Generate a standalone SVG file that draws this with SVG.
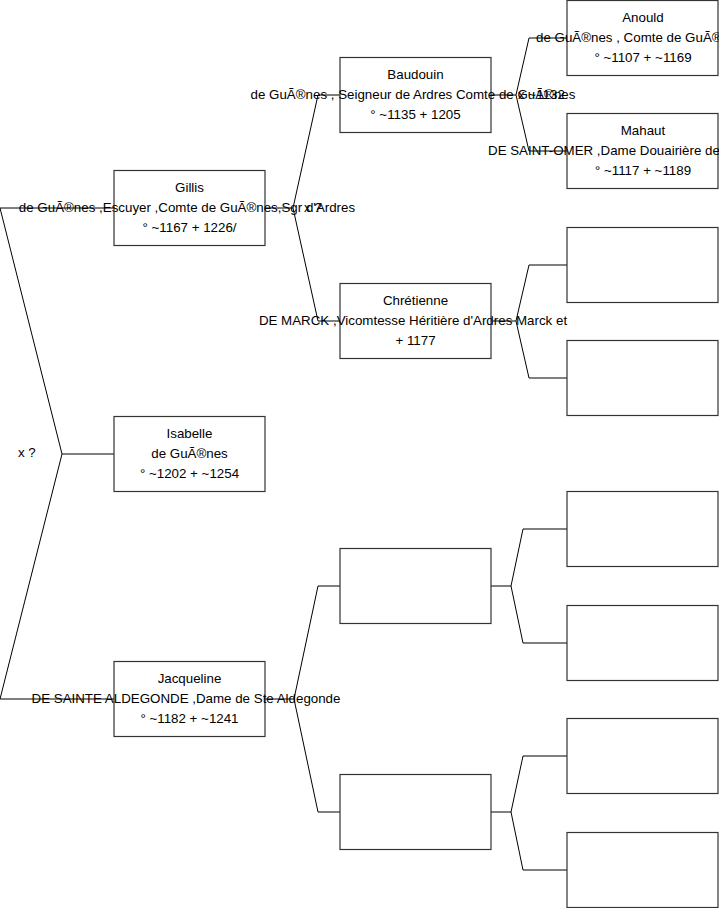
<svg xmlns="http://www.w3.org/2000/svg" width="719" height="908" viewBox="0 0 719 908">
<style>
.c{fill:none;stroke:#000;stroke-width:1}
.b{fill:#fff;stroke:#333;stroke-width:1.2}
.t{font-family:"Liberation Sans",Arial,sans-serif;font-size:13.33px;fill:#000;text-anchor:middle}
.s{font-family:"Liberation Sans",Arial,sans-serif;font-size:13.33px;fill:#000}
</style>
<rect width="719" height="908" fill="#fff"/>
<g id="connectors">
<polyline class="c" points="114,208 0,208 62,454 0,699 114,699"/>
<line class="c" x1="62" y1="454" x2="114" y2="454"/>
<line class="c" x1="265" y1="208" x2="293" y2="208"/>
<polyline class="c" points="340,95 318,95 293,208 318,321 340,321"/>
<line class="c" x1="265" y1="699" x2="294" y2="699"/>
<polyline class="c" points="340,586 318,586 294,699 318,812 340,812"/>
<line class="c" x1="491" y1="95" x2="516" y2="95"/>
<polyline class="c" points="567,38 529,38 516,95 529,151 567,151"/>
<line class="c" x1="491" y1="321" x2="516" y2="321"/>
<polyline class="c" points="567,265 529,265 516,321 529,378 567,378"/>
<line class="c" x1="491" y1="586" x2="511" y2="586"/>
<polyline class="c" points="567,529 523,529 511,586 523,643 567,643"/>
<line class="c" x1="491" y1="812" x2="511" y2="812"/>
<polyline class="c" points="567,756 523,756 511,812 523,870 567,870"/>
</g>
<g id="gillis">
<rect class="b" x="114" y="170.5" width="151" height="75"/>
<text class="t" x="189.5" y="191.5">Gillis</text>
<text class="t" x="187" y="211.5">de GuÃ®nes ,Escuyer ,Comte de GuÃ®nes,Sgr d'Ardres</text>
<text class="t" x="189.5" y="231.5">° ~1167 + 1226/</text>
</g>
<g id="isabelle">
<rect class="b" x="114" y="416.5" width="151" height="75"/>
<text class="t" x="189.5" y="437.5">Isabelle</text>
<text class="t" x="189.5" y="457.5">de GuÃ®nes</text>
<text class="t" x="189.5" y="477.5">° ~1202 + ~1254</text>
</g>
<g id="jacqueline">
<rect class="b" x="114" y="661.5" width="151" height="75"/>
<text class="t" x="189.5" y="682.5">Jacqueline</text>
<text class="t" x="186" y="702.5">DE SAINTE ALDEGONDE ,Dame de Ste Aldegonde</text>
<text class="t" x="189.5" y="722.5">° ~1182 + ~1241</text>
</g>
<g id="baudouin">
<rect class="b" x="340" y="57.5" width="151" height="75"/>
<text class="t" x="415.5" y="78.5">Baudouin</text>
<text class="t" x="413" y="98.5">de GuÃ®nes , Seigneur de Ardres Comte de GuÃ®nes</text>
<text class="t" x="415.5" y="118.5">° ~1135 + 1205</text>
</g>
<g id="chretienne">
<rect class="b" x="340" y="283.5" width="151" height="75"/>
<text class="t" x="415.5" y="304.5">Chrétienne</text>
<text class="t" x="413" y="324.5">DE MARCK ,Vicomtesse Héritière d'Ardres Marck et</text>
<text class="t" x="415.5" y="344.5">+ 1177</text>
</g>
<g id="gen2-empty1"><rect class="b" x="340" y="548.5" width="151" height="75"/></g>
<g id="gen2-empty2"><rect class="b" x="340" y="774.5" width="151" height="75"/></g>
<g id="anould">
<rect class="b" x="567" y="0.5" width="151" height="75"/>
<text class="t" x="643" y="21.5">Anould</text>
<text class="s" x="536" y="41.5">de GuÃ®nes , Comte de GuÃ®nes</text>
<text class="t" x="643" y="61.5">° ~1107 + ~1169</text>
</g>
<g id="mahaut">
<rect class="b" x="567" y="113.5" width="151" height="75"/>
<text class="t" x="643" y="134.5">Mahaut</text>
<text class="s" x="488" y="154.5">DE SAINT-OMER ,Dame Douairière de</text>
<text class="t" x="643" y="174.5">° ~1117 + ~1189</text>
</g>
<g id="gen3-3"><rect class="b" x="567" y="227.5" width="151" height="75"/></g>
<g id="gen3-4"><rect class="b" x="567" y="340.5" width="151" height="75"/></g>
<g id="gen3-5"><rect class="b" x="567" y="491.5" width="151" height="75"/></g>
<g id="gen3-6"><rect class="b" x="567" y="605.5" width="151" height="75"/></g>
<g id="gen3-7"><rect class="b" x="567" y="718.5" width="151" height="75"/></g>
<g id="gen3-8"><rect class="b" x="567" y="832.5" width="151" height="75"/></g>
<g id="marriage-labels">
<text class="s" x="18" y="456.5">x ?</text>
<text class="s" x="304" y="211.5">x ?</text>
<text class="s" x="518" y="98.5">x ~1132</text>
</g>
</svg>
